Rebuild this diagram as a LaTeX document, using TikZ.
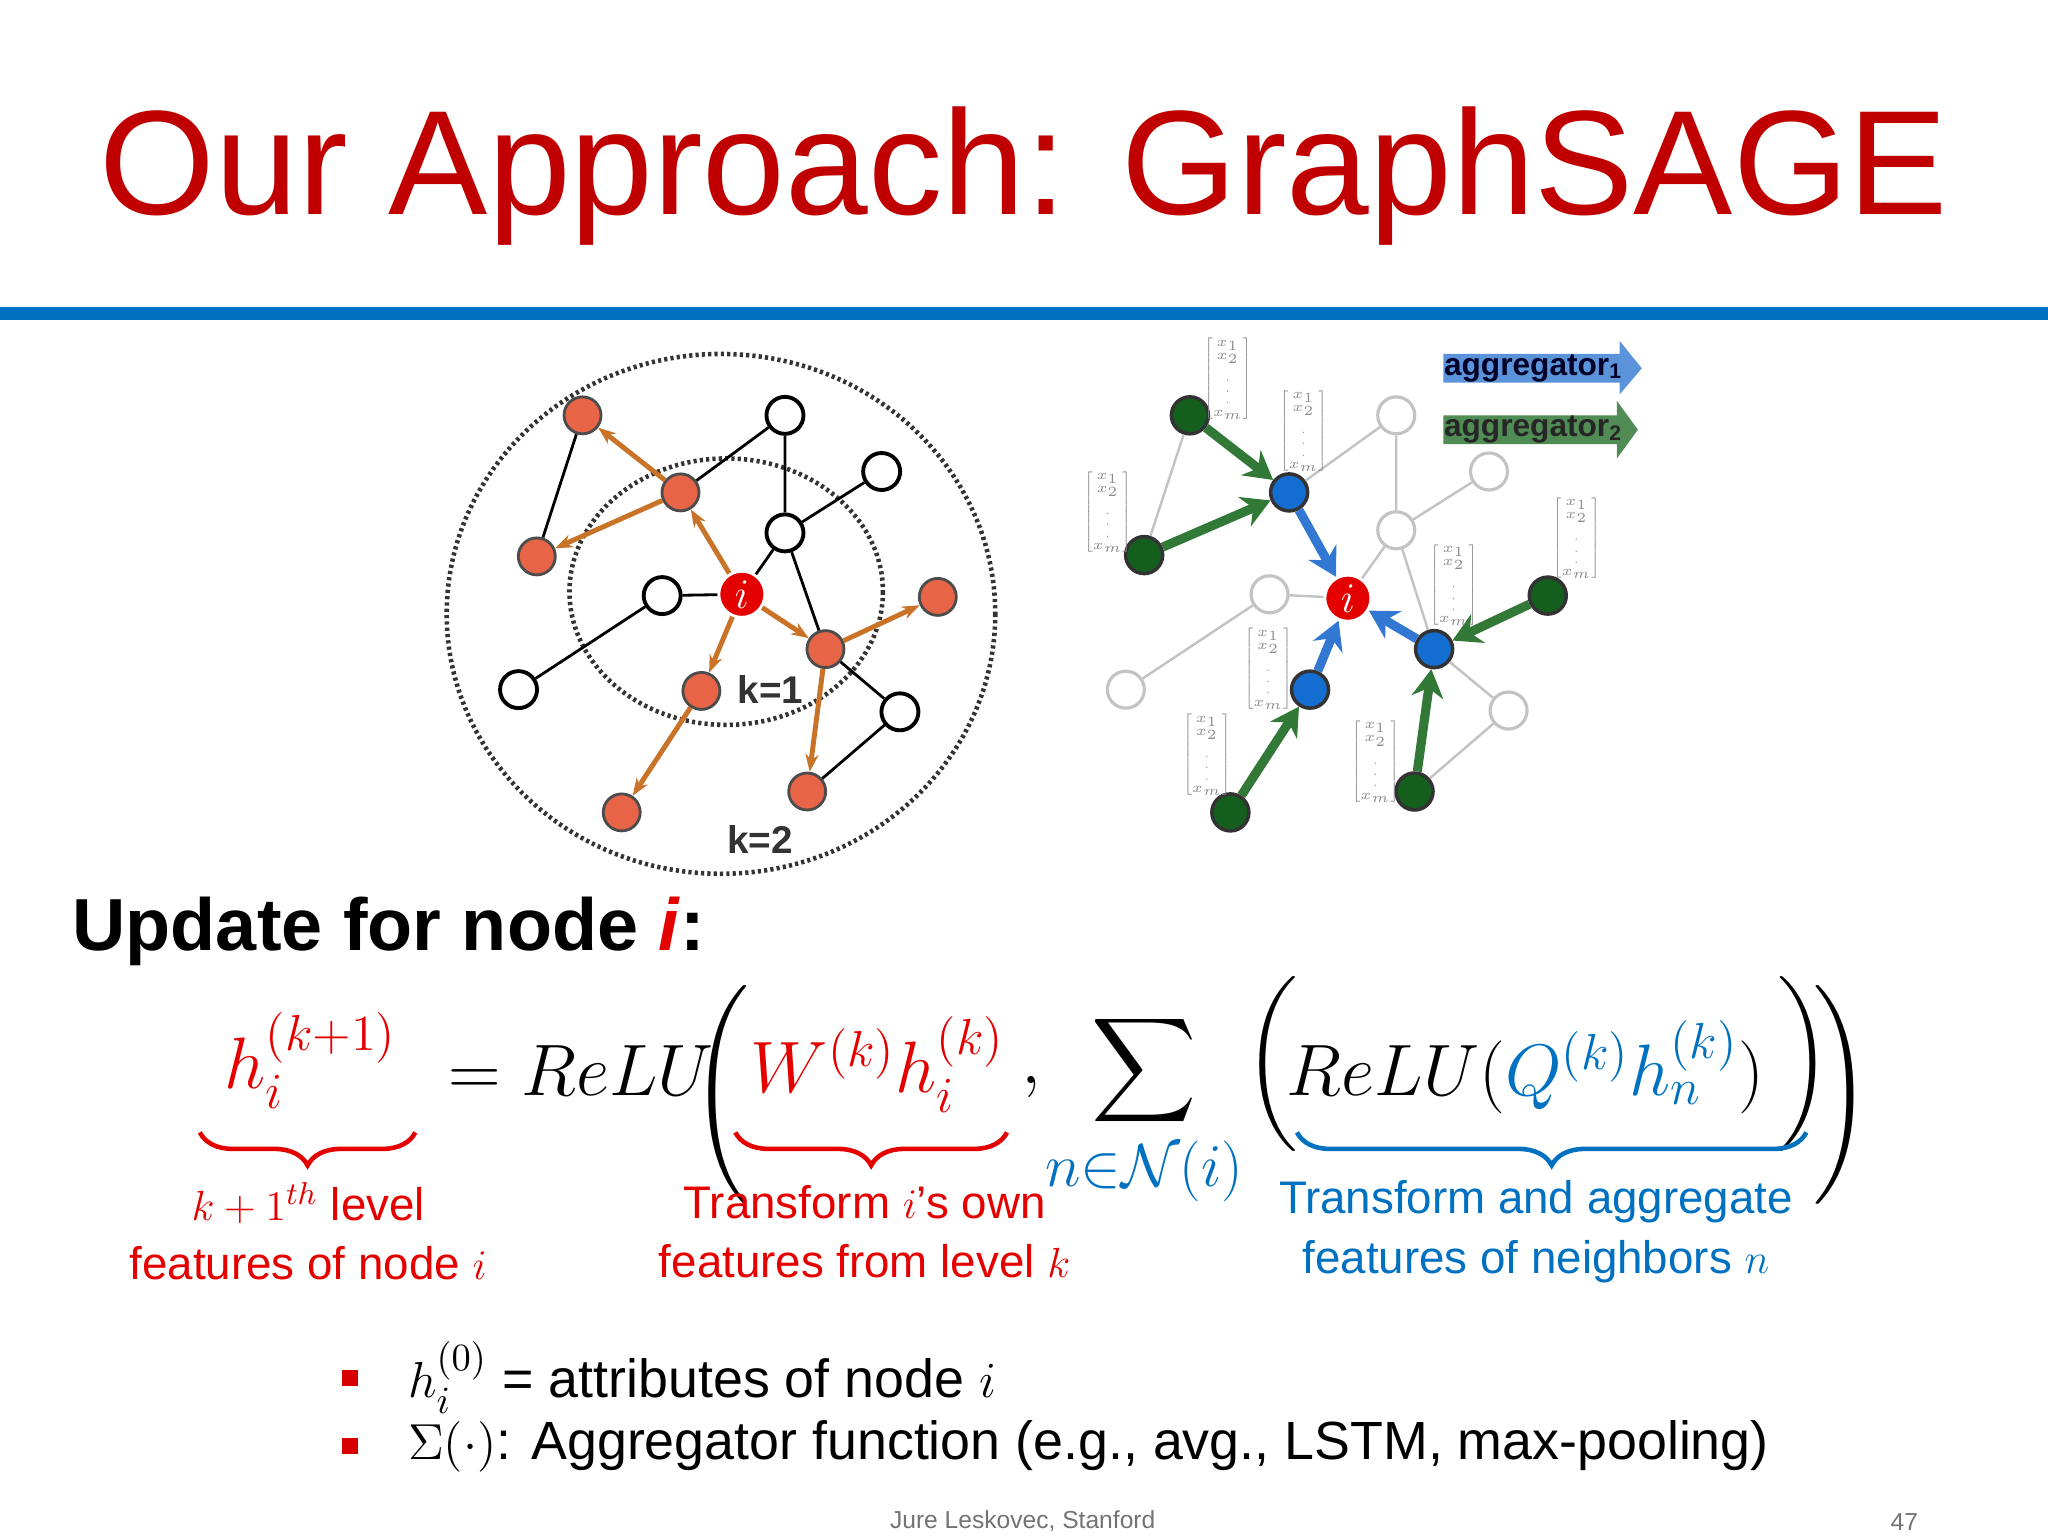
\documentclass[tikz,border=0pt]{standalone}
\usepackage{amsmath}
\usepackage{fontspec}
\setmainfont{Liberation Sans}
\usetikzlibrary{arrows.meta,decorations.pathreplacing}
\definecolor{ttl}{RGB}{192,0,0}
\definecolor{rule}{RGB}{0,112,192}
\definecolor{lblue}{RGB}{0,112,192}
\definecolor{orn}{RGB}{232,100,70}
\definecolor{ornline}{RGB}{200,115,40}
\definecolor{gfill}{RGB}{20,95,30}
\definecolor{garrow}{RGB}{50,120,55}
\definecolor{bfill}{RGB}{20,110,210}
\definecolor{barrow}{RGB}{50,120,210}
\definecolor{lgray}{RGB}{195,195,195}
\begin{document}
\begin{tikzpicture}[x=0.01306cm,y=-0.01306cm,
  wn/.style={circle,draw=black,line width=1.1pt,fill=white,minimum size=0.37cm,inner sep=0pt},
  on/.style={circle,draw=black!70,line width=0.8pt,fill=orn,minimum size=0.37cm,inner sep=0pt},
  inode/.style={circle,draw=white,line width=0.8pt,fill=red!90!black,minimum size=0.46cm,inner sep=0pt,text=white,font=\large},
  gn/.style={circle,draw=black!80,line width=1pt,fill=gfill,minimum size=0.37cm,inner sep=0pt},
  bn/.style={circle,draw=black!80,line width=1pt,fill=bfill,minimum size=0.37cm,inner sep=0pt},
  gwn/.style={circle,draw=lgray,line width=0.9pt,fill=white,minimum size=0.37cm,inner sep=0pt},
  bl/.style={draw=black,line width=0.8pt},
  ol/.style={draw=ornline,line width=1.4pt,-{Stealth[length=5pt]}},
  gl/.style={draw=lgray,line width=0.7pt},
  ga/.style={draw=garrow,line width=2.6pt,-{Stealth[length=8pt,width=9pt]}},
  ba/.style={draw=barrow,line width=2.6pt,-{Stealth[length=8pt,width=9pt]}},
  dotc/.style={draw=black!80,line width=1.3pt,dash pattern=on 0.9pt off 0.9pt},
  vec/.style={text=black!45,font=\fontsize{4}{4.5}\selectfont,inner sep=0pt,scale=0.8},
  lab/.style={font=\fontsize{13}{15}\selectfont,align=center},
  brr/.style={decorate,decoration={brace,mirror,amplitude=0.33cm},line width=1.3pt}]
\useasboundingbox (0,0) rectangle (1568,1176);
% title
\node[text=ttl,font=\fontsize{42.3}{50}\selectfont] (title) at (784,135) {Our Approach: GraphSAGE};
\fill[rule] (0,235) rectangle (1568,245);
% ---------- left graph ----------
\draw[dotc] (552,470) ellipse [x radius=210,y radius=199];
\draw[dotc] (556,453) ellipse [x radius=120,y radius=102];
\node[on] (o1) at (446,318) {};
\node[on] (o2) at (521,377) {};
\node[on] (o3) at (411,426) {};
\node[on] (o4) at (632,497) {};
\node[on] (o5) at (718,457) {};
\node[on] (o6) at (537,529) {};
\node[on] (o7) at (476,622) {};
\node[on] (o8) at (618,606) {};
\node[wn] (w1) at (601,318) {};
\node[wn] (w2) at (675,361) {};
\node[wn] (w3) at (601,408) {};
\node[wn] (w4) at (507,456) {};
\node[wn] (w5) at (397,528) {};
\node[wn] (w6) at (689,545) {};
\node[inode] (li) at (568,455) {$i$};
\draw[bl] (o1)--(o3) (o2)--(w1) (w1)--(w3) (w3)--(w2) (w3)--(li) (w3)--(o4) (li)--(w4) (w4)--(w5) (o4)--(w6) (w6)--(o8);
\draw[ol] (li)--(o2); \draw[ol] (o2)--(o1); \draw[ol] (o2)--(o3);
\draw[ol] (li)--(o4); \draw[ol] (o4)--(o5); \draw[ol] (o4)--(o8);
\draw[ol] (li)--(o6); \draw[ol] (o6)--(o7);
\node[font=\bfseries\fontsize{11}{13}\selectfont,text=black!80] (k1) at (590,528) {k=1};
\node[font=\bfseries\fontsize{11}{13}\selectfont,text=black!80] (k2) at (582,643) {k=2};
% ---------- right graph ----------
\node[gwn] (r1) at (1069,318) {};
\node[gwn] (r2) at (1140,361) {};
\node[gwn] (r3) at (1069,406) {};
\node[gwn] (r4) at (972,455) {};
\node[gwn] (r5) at (862,528) {};
\node[gwn] (r6) at (1155,544) {};
\node[gn] (g1) at (911,318) {};
\node[gn] (g2) at (876,425) {};
\node[gn] (g3) at (942,622) {};
\node[gn] (g4) at (1083,606) {};
\node[gn] (g5) at (1185,456) {};
\node[bn] (b1) at (987,377) {};
\node[bn] (b2) at (1003,528) {};
\node[bn] (b3) at (1098,497) {};
\node[inode] (ri) at (1032,458) {$i$};
\draw[gl] (g1)--(g2) (b1)--(r1) (r1)--(r3) (r3)--(r2) (r3)--(ri) (r3)--(b3) (ri)--(r4) (r4)--(r5) (b3)--(r6) (r6)--(g4);
\draw[ga] (g1)--(b1); \draw[ga] (g2)--(b1); \draw[ga] (g3)--(b2); \draw[ga] (g4)--(b3); \draw[ga] (g5)--(b3);
\draw[ba] (b1)--(ri); \draw[ba] (b2)--(ri); \draw[ba] (b3)--(ri);
\foreach \n/\p in {v1/{(940,290)},v2/{(998,330)},v3/{(848,392)},v4/{(1113,448)},v5/{(971,512)},v6/{(924,578)},v7/{(1053,583)},v8/{(1207,412)}}
  \node[vec] (\n) at \p {$\left[\begin{matrix}x_1\\x_2\\\vdots\\x_m\end{matrix}\right]$};
\fill[barrow!80] (1105,271) -- (1240,271) -- (1240,261) -- (1257,282) -- (1240,302) -- (1240,293) -- (1105,293) -- cycle;
\node[font=\bfseries\fontsize{9}{11}\selectfont,text=black!85!blue] (ag1) at (1174,282) {aggregator\textsubscript{1}};
\fill[garrow!85] (1105,318) -- (1238,318) -- (1238,307) -- (1254,329) -- (1238,351) -- (1238,340) -- (1105,340) -- cycle;
\node[font=\bfseries\fontsize{9}{11}\selectfont,text=black!85] (ag2) at (1174,329) {aggregator\textsubscript{2}};
% ---------- update ----------
\node[anchor=west,font=\bfseries\fontsize{21}{24}\selectfont] (upd) at (46,713) {Update for node \textcolor{red!90!black}{\textit{i}}:};
\begin{scope}[every node/.style={font=\fontsize{21}{24}\selectfont}]
\node (e1) at (238,812) {$\color{red!90!black}h_i^{(k+1)}$};
\node (e2) at (445,820) {$=ReLU$};
\node (e3) at (553,840) {$\left(\vrule height 0.95cm depth 0.95cm width 0pt\right.$};
\node (e4) at (672,815) {$\color{red!90!black}W^{(k)}h_i^{(k)}$};
\node (e5) at (790,832) {$,$};
\node (e6) at (876,820) {$\displaystyle\sum$};
\node[font=\fontsize{18}{20}\selectfont] (e7) at (876,897) {$\color{lblue}n{\in}\mathcal{N}(i)$};
\node (e8) at (975,815) {$\left(\vrule height 0.6cm depth 0.6cm width 0pt\right.$};
\node (e9) at (1168,817) {$ReLU({\color{lblue}Q^{(k)}h_n^{(k)}})$};
\node (e10) at (1380,815) {$\left.\vrule height 0.6cm depth 0.6cm width 0pt\right)$};
\node (e11) at (1409,840) {$\left.\vrule height 0.95cm depth 0.95cm width 0pt\right)$};
\end{scope}
\draw[brr,red!90!black] (153,867) -- (318,867);
\draw[brr,red!90!black] (563,867) -- (771,867);
\draw[brr,lblue] (993,867) -- (1383,867);
\node[lab,text=red!90!black] (l1) at (236,943) {$k+1^{th}$ level\\[2pt]features of node $i$};
\node[lab,text=red!90!black] (l2) at (662,943) {Transform $i$'s own\\[2pt]features from level $k$};
\node[lab,text=lblue] (l3) at (1176,943) {Transform and aggregate\\[2pt]features of neighbors $n$};
% bullets
\fill[red!85!black] (262,1049) rectangle (274,1061);
\fill[red!85!black] (262,1101) rectangle (274,1113);
\node[anchor=west,font=\fontsize{15.3}{18}\selectfont] (bt1) at (303,1055) {$h_i^{(0)}$ = attributes of node $i$};
\node[anchor=west,font=\fontsize{15.3}{18}\selectfont] (bt2) at (303,1107) {$\Sigma(\cdot)$: Aggregator function (e.g., avg., LSTM, max-pooling)};
\node[text=black!55,font=\fontsize{7}{8}\selectfont] (ft) at (783,1165) {Jure Leskovec, Stanford};
\node[text=black!55,font=\fontsize{7}{8}\selectfont] (pg) at (1458,1165) {47};
\end{tikzpicture}
\end{document}
